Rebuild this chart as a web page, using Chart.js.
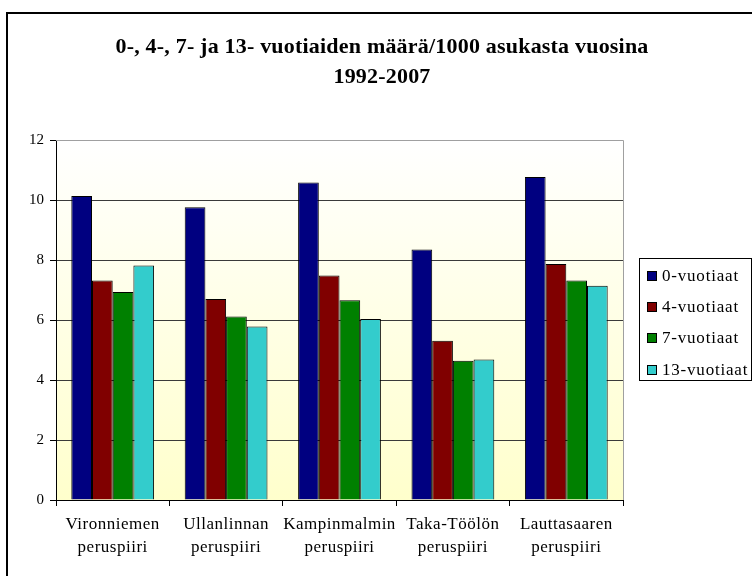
<!DOCTYPE html>
<html><head><meta charset="utf-8">
<script src="https://cdn.jsdelivr.net/npm/chart.js@4"></script>
<style>html,body{margin:0;padding:0;background:#fff}canvas{display:block}</style>
</head><body>
<canvas id="c" width="752" height="576"></canvas>
<script>
const categories = [["Vironniemen","peruspiiri"],["Ullanlinnan","peruspiiri"],["Kampinmalmin","peruspiiri"],["Taka-Töölön","peruspiiri"],["Lauttasaaren","peruspiiri"]];
const seriesNames = ["0-vuotiaat","4-vuotiaat","7-vuotiaat","13-vuotiaat"];
const age0 = [10.13, 9.76, 10.58, 8.35, 10.77];
const age4 = [7.32, 6.70, 7.48, 5.31, 7.87];
const age7 = [6.93, 6.12, 6.66, 4.64, 7.32];
const age13 = [7.82, 5.78, 6.03, 4.68, 7.14];
const yTicks = [0, 2, 4, 6, 8, 10, 12];
const titleLines = ["0-, 4-, 7- ja 13- vuotiaiden määrä/1000 asukasta vuosina", "1992-2007"];
const seriesColors = ["#000080", "#800000", "#008000", "#33CCCC"];

const FONT = "'Liberation Serif', 'Times New Roman', serif";

const deco = {
  id: 'deco',
  afterLayout(chart) {
    const sx = chart.scales.x;
    if (sx && !sx._lsWrapped) {
      const orig = sx.drawLabels;
      sx.drawLabels = function (area) {
        const c = this.ctx;
        c.save();
        c.letterSpacing = '0.5px';
        orig.call(this, area);
        c.restore();
      };
      sx._lsWrapped = true;
    }
  },
  beforeDraw(chart) {
    const ctx = chart.ctx, a = chart.chartArea;
    ctx.save();
    ctx.fillStyle = '#fff';
    ctx.fillRect(0, 0, chart.width, chart.height);
    const g = ctx.createLinearGradient(0, a.top, 0, a.bottom);
    g.addColorStop(0, '#FFFFFF');
    g.addColorStop(1, '#FFFFCC');
    ctx.fillStyle = g;
    ctx.fillRect(a.left, a.top, a.right - a.left, a.bottom - a.top);
    ctx.restore();
  },
  afterDraw(chart) {
    const ctx = chart.ctx, a = chart.chartArea;
    ctx.save();
    // plot area border top/right
    ctx.strokeStyle = '#A0A0A0';
    ctx.lineWidth = 1;
    ctx.beginPath();
    ctx.moveTo(a.left, a.top + 0.5);
    ctx.lineTo(a.right + 0.5, a.top + 0.5);
    ctx.lineTo(a.right + 0.5, a.bottom);
    ctx.stroke();
    // outer frame
    ctx.strokeStyle = '#000';
    ctx.lineWidth = 2;
    ctx.beginPath();
    ctx.moveTo(7, chart.height + 5);
    ctx.lineTo(7, 13);
    ctx.lineTo(chart.width + 5, 13);
    ctx.stroke();
    // title
    ctx.fillStyle = '#000';
    ctx.font = "bold 22px " + FONT;
    ctx.letterSpacing = '0.2px';
    ctx.textAlign = 'center';
    ctx.textBaseline = 'alphabetic';
    ctx.fillText(titleLines[0], 382, 53);
    ctx.fillText(titleLines[1], 382, 83);
    // legend
    const lx = 639, ly = 258, lw = 112, lh = 122;
    ctx.strokeStyle = '#000';
    ctx.lineWidth = 1;
    ctx.fillStyle = '#fff';
    ctx.fillRect(lx, ly, lw, lh);
    ctx.strokeRect(lx + 0.5, ly + 0.5, lw, lh);
    ctx.font = "17px " + FONT;
    ctx.letterSpacing = '0.8px';
    ctx.textAlign = 'left';
    chart.data.datasets.forEach((ds, i) => {
      const base = 281 + i * 31.2;
      ctx.fillStyle = ds.backgroundColor;
      ctx.fillRect(647, Math.round(base) - 10, 10, 10);
      ctx.strokeRect(647.5, Math.round(base) - 9.5, 9, 9);
      ctx.fillStyle = '#000';
      ctx.fillText(ds.label, 662, base);
    });
    ctx.restore();
  }
};

const seriesData = [age0, age4, age7, age13];
new Chart(document.getElementById('c'), {
  type: 'bar',
  data: {
    labels: categories,
    datasets: seriesNames.map((n, i) => ({
      label: n,
      data: seriesData[i],
      backgroundColor: seriesColors[i],
      borderColor: '#000',
      borderWidth: 1,
      borderSkipped: 'start',
      categoryPercentage: 0.73,
      barPercentage: 1.0
    }))
  },
  options: {
    responsive: false,
    animation: false,
    events: [],
    layout: { padding: { top: 140, right: 129, left: 0, bottom: 0 } },
    plugins: { legend: { display: false }, title: { display: false }, tooltip: { enabled: false } },
    scales: {
      x: {
        grid: { offset: true, drawOnChartArea: false, tickLength: 6, tickColor: '#000' },
        border: { display: true, color: '#000', width: 1 },
        ticks: { color: '#000', font: { family: FONT, size: 17, lineHeight: 1.35 }, padding: 7, maxRotation: 0, autoSkip: false },
        afterFit(s) { s.height = 76; }
      },
      y: {
        min: 0, max: 12,
        afterBuildTicks(s) { s.ticks = yTicks.map(v => ({ value: v })); },
        grid: {
          color: c => c.tick && c.tick.value === 12 ? '#A0A0A0' : (c.tick && c.tick.value === 0 ? 'rgba(0,0,0,0)' : '#3a3a3a'),
          tickColor: '#000', tickLength: 6, lineWidth: 1
        },
        border: { display: true, color: '#000', width: 1 },
        ticks: { color: '#000', font: { family: FONT, size: 15 }, padding: 6 },
        afterFit(s) { s.width = 56; }
      }
    }
  },
  plugins: [deco]
});
</script>
</body></html>
